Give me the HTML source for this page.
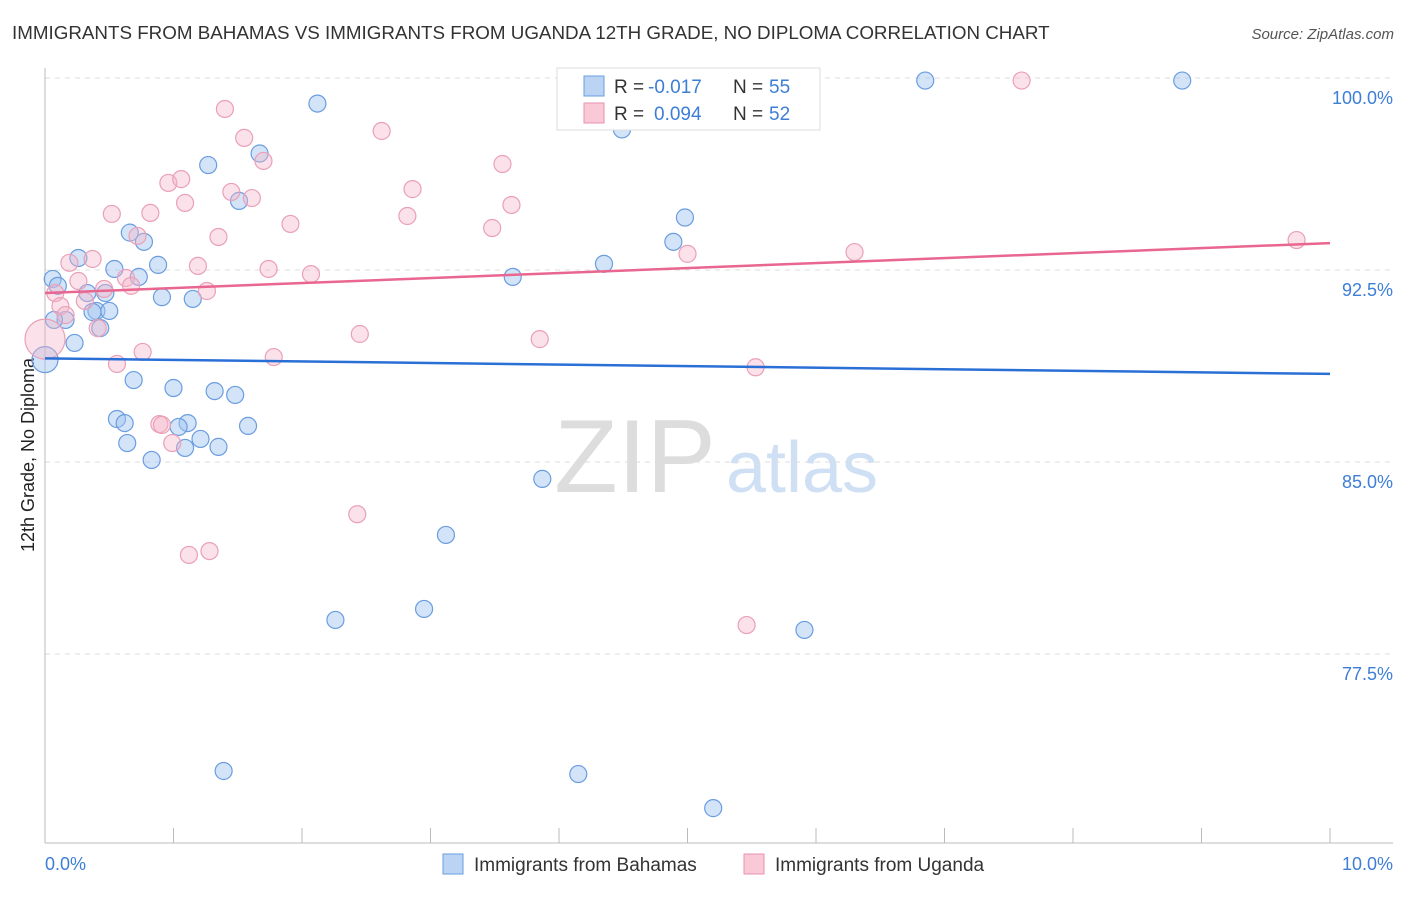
<!DOCTYPE html>
<html><head><meta charset="utf-8"><style>
body{margin:0;background:#fff;font-family:"Liberation Sans",sans-serif}
svg text{font-family:"Liberation Sans",sans-serif}
</style></head><body>
<svg id="c" width="1406" height="892">
<text x="12" y="39" font-size="18.8" fill="#333">IMMIGRANTS FROM BAHAMAS VS IMMIGRANTS FROM UGANDA 12TH GRADE, NO DIPLOMA CORRELATION CHART</text>
<text x="1394" y="39" font-size="15" fill="#555" text-anchor="end" font-style="italic">Source: ZipAtlas.com</text>
<text x="34" y="455" font-size="18" fill="#222" text-anchor="middle" transform="rotate(-90 34 455)">12th Grade, No Diploma</text>
<text x="635" y="492" font-size="104" fill="#ddd" font-family="Liberation Serif" text-anchor="middle">ZIP</text>
<text x="802" y="492" font-size="72" fill="#cfe0f5" text-anchor="middle">atlas</text>
<g id="grid"></g><g id="pts"></g><g id="lines"></g>
<g>
<rect x="557" y="68" width="263" height="62" fill="#fff" stroke="#ddd"/>
<rect x="584" y="76" width="20" height="20" fill="#bcd4f3" stroke="#6a9de0"/>
<rect x="584" y="103" width="20" height="20" fill="#f9c9d8" stroke="#e992ae"/>
<text x="614" y="93" font-size="19" fill="#333">R =</text>
<text x="648" y="93" font-size="19" fill="#3d7ed6">-0.017</text>
<text x="733" y="93" font-size="19" fill="#333">N =</text>
<text x="769" y="93" font-size="19" fill="#3d7ed6">55</text>
<text x="614" y="120" font-size="19" fill="#333">R =</text>
<text x="654" y="120" font-size="19" fill="#3d7ed6">0.094</text>
<text x="733" y="120" font-size="19" fill="#333">N =</text>
<text x="769" y="120" font-size="19" fill="#3d7ed6">52</text>
</g>
<g>
<rect x="443" y="854" width="20" height="20" fill="#bcd4f3" stroke="#6a9de0"/>
<text x="474" y="871" font-size="19" fill="#333">Immigrants from Bahamas</text>
<rect x="744" y="854" width="20" height="20" fill="#f9c9d8" stroke="#e992ae"/>
<text x="775" y="871" font-size="19" fill="#333">Immigrants from Uganda</text>
</g>
</svg>
<script>
const yTicks=[100,92.5,85,77.5];
const xTickLabels=["0.0%","10.0%"];
const blueX=[2.12,6.85,8.85,4.49,1.67,1.27,1.51,4.98,0.66,0.77,4.89,0.26,0.88,0.54,0.73,4.35,3.64,0.06,0.33,0.47,0.91,1.15,0.1,0.4,0.5,0.16,0.37,0.07,0.43,0.23,0,0.69,1.0,1.32,1.48,0.56,0.62,1.11,1.04,1.58,1.21,0.64,1.09,1.35,0.83,3.87,3.12,2.26,2.95,5.91,1.39,4.15,5.2];
const blueY=[99.0,99.9,99.9,97.99,97.05,96.6,95.2,94.55,93.96,93.6,93.6,92.97,92.7,92.54,92.23,92.74,92.23,92.15,91.6,91.6,91.44,91.37,91.88,90.9,90.9,90.55,90.86,90.55,90.23,89.65,89.0,88.2,87.89,87.77,87.62,86.68,86.52,86.52,86.37,86.41,85.9,85.74,85.55,85.59,85.08,84.34,82.15,78.83,79.26,78.44,72.93,72.81,71.48];
const pinkX=[7.6,1.4,1.55,2.62,1.7,3.56,0.96,1.06,2.86,1.45,1.61,1.09,3.63,0.52,0.82,2.82,1.91,3.48,1.35,0.72,9.74,5.0,6.3,0.19,0.37,1.19,1.74,2.07,0.26,0.63,0.67,0.08,1.26,0.46,0.12,0.31,0.16,0.41,2.45,3.85,0,1.78,0.56,0.76,5.53,0.89,0.91,0.99,2.43,1.28,1.12,5.46];
const pinkY=[99.9,98.79,97.66,97.93,96.76,96.64,95.9,96.05,95.66,95.55,95.31,95.12,95.04,94.69,94.73,94.61,94.3,94.14,93.79,93.83,93.67,93.13,93.2,92.78,92.93,92.66,92.54,92.34,92.07,92.19,91.88,91.6,91.68,91.76,91.09,91.29,90.74,90.23,90.0,89.8,89.8,89.1,88.83,89.3,88.7,86.48,86.45,85.74,82.96,81.52,81.37,78.63];
const blueTrend=[89.05,88.44];
const pinkTrend=[91.6,93.55];
const X=v=>45+v*128.5, Y=v=>78+(100-v)*25.6;
const NS="http://www.w3.org/2000/svg";
function mk(t,a,p){const e=document.createElementNS(NS,t);for(const k in a)e.setAttribute(k,a[k]);p.appendChild(e);return e;}
const g=document.getElementById('grid');
yTicks.forEach(t=>{
 const l=mk('line',{x1:45,x2:1393,y1:Y(t),y2:Y(t),stroke:'#ddd','stroke-dasharray':'5,5'},g);
 
 
 const tx=mk('text',{x:1393,y:Y(t)+26,'font-size':18,fill:'#3d7ed6','text-anchor':'end'},g);
 tx.textContent=t.toFixed(1)+'%';
 
 
});
mk('line',{x1:45,x2:45,y1:68,y2:843,stroke:'#bbb'},g);
mk('line',{x1:45,x2:1393,y1:843,y2:843,stroke:'#bbb'},g);
for(let i=0;i<=10;i++){mk('line',{x1:X(i),x2:X(i),y1:828,y2:843,stroke:'#bbb'},g);}
xTickLabels.forEach((s,i)=>{const t=mk('text',{x:i?1393:45,y:870,'font-size':18,fill:'#3d7ed6','text-anchor':i?'end':'start'},g);t.textContent=s;
 
 });
const p=document.getElementById('pts');
blueX.forEach((x,i)=>{const c=mk('circle',{cx:X(x),cy:Y(blueY[i]),r:x===0?13:8.5,fill:'rgba(160,195,240,0.45)',stroke:'#6a9de0','stroke-width':1.2},p);
 
 });
pinkX.forEach((x,i)=>{const c=mk('circle',{cx:X(x),cy:Y(pinkY[i]),r:x===0?20:8.5,fill:'rgba(245,180,200,0.4)',stroke:'#eaa0b8','stroke-width':1.2},p);
 
 });
const L=document.getElementById('lines');
const b=mk('line',{x1:X(0),x2:X(10),y1:Y(blueTrend[0]),y2:Y(blueTrend[1]),stroke:'#2a6fd6','stroke-width':2.5},L);


const q=mk('line',{x1:X(0),x2:X(10),y1:Y(pinkTrend[0]),y2:Y(pinkTrend[1]),stroke:'#e8668f','stroke-width':2.5},L);


</script>
</body></html>
